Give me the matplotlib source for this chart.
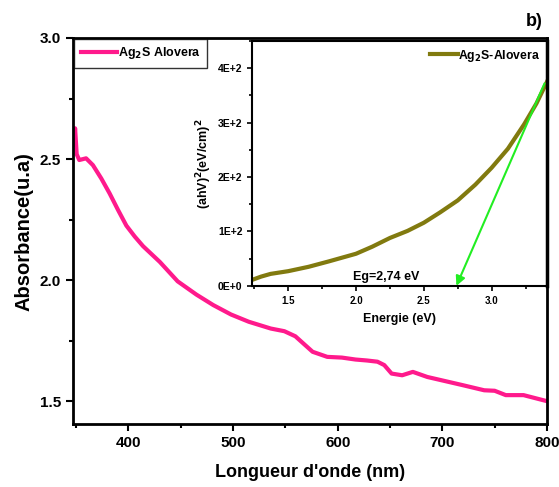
import matplotlib
matplotlib.use("Agg")
import matplotlib.pyplot as plt
from matplotlib.ticker import MultipleLocator, FuncFormatter

plt.rcParams['font.family'] = ['Liberation Sans', 'DejaVu Sans']
plt.rcParams['font.weight'] = 'bold'

# main spectrum: absorbance vs wavelength
wavelength = [348, 349, 350.5, 353, 359.5, 366, 374, 382, 390, 398, 406, 414, 430, 447,
              465, 481, 498, 515, 536, 549, 559.5, 568, 576, 590, 604, 617, 628, 638,
              644.5, 651.5, 661.6, 671.8, 685.6, 702.6, 719.6, 740, 750, 760.6, 777.6,
              800]
absorbance = [2.56, 2.627, 2.52, 2.496, 2.503, 2.475, 2.42, 2.358, 2.29, 2.225, 2.18,
              2.14, 2.075, 1.995, 1.94, 1.897, 1.858, 1.828, 1.80, 1.789, 1.768, 1.735,
              1.704, 1.683, 1.68, 1.672, 1.668, 1.663, 1.649, 1.614, 1.607, 1.621, 1.60,
              1.583, 1.566, 1.545, 1.543, 1.525, 1.525, 1.50]

# inset: Tauc plot
energy = [1.234, 1.30, 1.37, 1.50, 1.65, 1.80, 2.00, 2.12, 2.25, 2.38, 2.50, 2.62,
          2.75, 2.88, 3.00, 3.12, 3.24, 3.33, 3.41]
tauc = [11, 17, 22, 27, 35, 45, 59, 72, 88, 101, 116, 135, 157, 186, 217, 252, 297,
        335, 376]
eg = 2.74
arrow_start = (3.39, 372)

fig = plt.figure(figsize=(5.59, 4.87), dpi=100)
ax = fig.add_axes([0.1306, 0.129, 0.8479, 0.793])
ax.plot(wavelength, absorbance, color='#ff1a8c', lw=3, label='Ag$_\\mathbf{2}$S Alovera')
ax.set_xlim(347, 800)
ax.set_ylim(1.405, 3.0)
ax.xaxis.set_major_locator(MultipleLocator(100))
ax.xaxis.set_minor_locator(MultipleLocator(50))
ax.yaxis.set_major_locator(MultipleLocator(0.5))
ax.yaxis.set_minor_locator(MultipleLocator(0.25))
ax.tick_params(which='both', direction='out', width=1.5, labelsize=11)
ax.tick_params(which='major', length=5)
ax.tick_params(which='minor', length=3)
for s in ax.spines.values():
    s.set_linewidth(2)
ax.set_xlabel("Longueur d'onde (nm)", fontsize=13, fontweight='bold', labelpad=10)
ax.set_ylabel("Absorbance(u.a)", fontsize=14.5, fontweight='bold', labelpad=5)
leg = ax.legend(loc='upper left', fontsize=9, frameon=True, fancybox=False,
                borderaxespad=0.1, handlelength=2.9, handletextpad=0.1,
                borderpad=0.5)
leg.get_frame().set_edgecolor('black')
leg.get_frame().set_linewidth(1)
fig.text(0.955, 0.955, 'b)', fontsize=13, fontweight='bold', ha='center', va='center')

ins = fig.add_axes([0.451, 0.413, 0.528, 0.503])
ins.plot(energy, tauc, color='#817a0f', lw=3, label='Ag$_2$S-Alovera')
ins.set_xlim(1.234, 3.41)
ins.set_ylim(0, 450)
ins.xaxis.set_major_locator(MultipleLocator(0.5))
ins.xaxis.set_minor_locator(MultipleLocator(0.25))
ins.yaxis.set_major_locator(MultipleLocator(100))
ins.yaxis.set_minor_locator(MultipleLocator(50))
ins.yaxis.set_major_formatter(FuncFormatter(lambda v, p: f"{int(round(v / 100))}E+{0 if v == 0 else 2}"))
ins.tick_params(which='both', direction='out', width=1.2)
ins.tick_params(axis='x', labelsize=7)
ins.tick_params(axis='y', labelsize=7.5)
ins.tick_params(which='major', length=3.5)
ins.tick_params(which='minor', length=2)
for s in ins.spines.values():
    s.set_linewidth(1.5)
ins.spines['right'].set_linewidth(2.5)
ins.set_xlabel('Energie (eV)', fontsize=9, fontweight='bold', labelpad=5)
ins.set_ylabel('(ahV)$^2$(eV/cm)$^2$', fontsize=9, fontweight='bold', labelpad=3)
ins.annotate('', xy=(eg, 0), xytext=arrow_start,
             arrowprops=dict(arrowstyle='-|>', color='#22ee22', lw=1.5,
                             mutation_scale=14, shrinkA=0, shrinkB=0))
ins.text(2.22, 17, 'Eg=2,74 eV', fontsize=9, fontweight='bold', ha='center', va='center')
ins.legend(loc='upper right', fontsize=8.8, frameon=False, handlelength=2.3,
           handletextpad=0.05, borderaxespad=0.15)

fig.savefig('out.png', dpi=100)
